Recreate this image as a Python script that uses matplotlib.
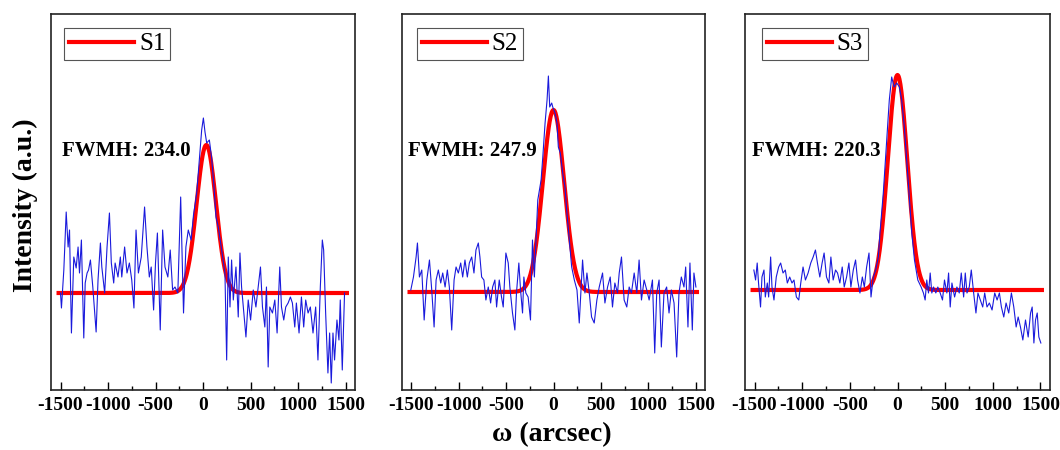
import numpy as np
import matplotlib
matplotlib.use("Agg")
import matplotlib.pyplot as plt

plt.rcParams['font.family'] = ['Liberation Serif', 'DejaVu Serif']
plt.rcParams['axes.unicode_minus'] = False

# omega (arcsec) / intensity (a.u.)
s1_x = [-1500, -1490, -1465, -1440, -1420, -1405, -1385, -1360, -1335, -1315, -1300, -1280, -1255, -1240,
        -1220, -1205, -1185, -1160, -1125, -1105, -1080, -1065, -1035, -1010, -985, -965, -940, -925,
        -895, -870, -855, -825, -800, -775, -750, -727, -705, -680, -650, -615, -590, -565, -545, -520,
        -500, -480, -450, -425, -400, -370, -345, -320, -295, -265, -235, -205, -180, -155, -125, -100,
        -66, -31, -14, 4, 21, 39, 67, 91, 116, 137, 161, 186, 207, 231, 249, 266, 284, 301, 319, 347,
        371, 389, 406, 424, 452, 476, 501, 529, 557, 581, 605, 626, 651, 668, 686, 703, 731, 756, 780,
        808, 826, 850, 871, 896, 920, 941, 966, 983, 1011, 1036, 1060, 1081, 1106, 1130, 1158, 1186,
        1210, 1235, 1256, 1270, 1291, 1315, 1333, 1350, 1368, 1385, 1410, 1431, 1445, 1466, 1490]
s1_y = [97, 82, 120, 178, 143, 160, 57, 133, 122, 143, 117, 150, 52, 107,
        117, 120, 130, 103, 58, 110, 147, 123, 97, 143, 177, 127, 107, 127,
        113, 133, 113, 143, 117, 127, 110, 82, 160, 117, 133, 183, 143, 113, 123, 80,
        127, 157, 60, 160, 123, 113, 140, 100, 103, 97, 193, 77, 143, 160, 150, 175,
        197, 240, 260, 272, 258, 247, 250, 232, 203, 173, 163, 147, 133, 117, 30, 133, 83, 130, 90, 123,
        73, 137, 103, 83, 53, 90, 70, 100, 83, 103, 123, 83, 63, 103, 23, 83, 77, 90, 57,
        123, 83, 70, 83, 87, 93, 87, 63, 87, 57, 93, 63, 90, 77, 83, 57, 83,
        30, 103, 150, 140, 77, 17, 57, 7, 57, 30, 70, 50, 90, 20, 97]

s2_x = [-1507, -1479, -1451, -1437, -1416, -1391, -1366, -1338, -1310, -1286, -1261, -1240, -1216, -1191,
        -1170, -1145, -1121, -1100, -1075, -1050, -1029, -1005, -980, -959, -935, -910, -889, -864,
        -840, -819, -794, -777, -759, -735, -714, -689, -664, -643, -619, -601, -573, -549, -531, -503,
        -478, -461, -433, -408, -391, -366, -348, -327, -313, -292, -268, -243, -222, -202, -166, -131,
        -113, -89, -68, -54, -40, -19, -8, 16, 37, 51, 72, 97, 121, 142, 167, 192, 220, 248, 272, 307,
        332, 353, 378, 402, 430, 458, 483, 518, 543, 571, 599, 623, 648, 676, 694, 718, 746, 774, 799,
        823, 852, 880, 904, 929, 957, 985, 1010, 1045, 1069, 1090, 1115, 1139, 1167, 1195, 1220, 1245,
        1273, 1301, 1325, 1350, 1378, 1396, 1420, 1441, 1466, 1483, 1504]
s2_y = [100, 113, 133, 147, 113, 120, 70, 110, 130, 100, 63, 110, 120, 107,
        117, 103, 120, 103, 60, 110, 123, 117, 127, 113, 130, 113, 127, 133,
        117, 140, 147, 133, 113, 110, 90, 103, 87, 103, 110, 83, 110, 93, 83, 137,
        127, 103, 77, 60, 97, 127, 100, 77, 113, 97, 93, 70, 150, 113, 190, 210,
        233, 267, 290, 314, 283, 287, 283, 277, 267, 243, 237, 217, 203, 177, 150, 123, 110, 100, 67, 130,
        97, 117, 97, 73, 67, 90, 103, 117, 87, 103, 113, 83, 107, 97, 117, 133, 90, 83, 103,
        97, 117, 97, 130, 90, 110, 100, 90, 110, 37, 97, 110, 43, 97, 103, 77, 100,
        87, 33, 97, 113, 103, 123, 63, 127, 60, 117, 103]

s3_x = [-1507, -1489, -1472, -1458, -1437, -1422, -1401, -1387, -1366, -1352, -1331, -1317, -1296, -1272,
        -1247, -1226, -1201, -1177, -1156, -1131, -1107, -1086, -1061, -1036, -1015, -991, -966, -938,
        -910, -885, -861, -840, -815, -791, -770, -745, -720, -699, -675, -650, -629, -605, -580, -559,
        -534, -510, -489, -464, -440, -419, -394, -369, -348, -324, -299, -278, -254, -229, -201, -184,
        -149, -113, -86, -61, -36, -8, 20, 44, 72, 97, 121, 150, 178, 213, 248, 272, 290, 307, 325, 343,
        360, 378, 402, 423, 448, 472, 493, 518, 536, 553, 571, 599, 623, 648, 669, 694, 711, 729, 753,
        774, 799, 823, 844, 869, 894, 915, 939, 964, 992, 1020, 1045, 1069, 1090, 1115, 1139, 1167,
        1195, 1220, 1245, 1266, 1290, 1315, 1343, 1371, 1396, 1413, 1431, 1448, 1466, 1483, 1504]
s3_y = [120, 110, 127, 107, 83, 113, 120, 93, 107, 93, 133, 103, 90, 113,
        123, 127, 117, 120, 107, 113, 107, 110, 93, 90, 107, 123, 110, 117,
        127, 133, 140, 127, 113, 127, 137, 113, 107, 133, 110, 120, 117, 107, 123, 103,
        113, 127, 103, 120, 130, 110, 97, 113, 103, 123, 137, 93, 113, 120, 133, 157,
        197, 250, 290, 313, 303, 307, 303, 290, 263, 230, 197, 157, 130, 110, 103, 97, 90, 110, 97, 117,
        97, 103, 97, 103, 97, 90, 110, 97, 117, 83, 107, 93, 103, 97, 117, 93, 117, 97, 103,
        120, 97, 77, 97, 90, 83, 97, 83, 87, 80, 97, 90, 97, 83, 73, 87, 77,
        97, 83, 63, 73, 63, 50, 70, 53, 77, 83, 47, 70, 77, 53, 47]

labels = ['S1', 'S2', 'S3']
fwhm_text = ['FWMH: 234.0', 'FWMH: 247.9', 'FWMH: 220.3']
# gaussian fit: centre, width, baseline, amplitude
fit_center = [35, 0, 0]
fit_width = [240, 265, 240]
fit_base = [97, 98, 100]
fit_amp = [148, 182, 215]

data = [(s1_x, s1_y), (s2_x, s2_y), (s3_x, s3_y)]
lefts = [51, 402, 745]
widths = [304, 303, 305]
leg_x = [0.043, 0.048, 0.055]
txt_x = [0.036, 0.02, 0.023]

fig = plt.figure(figsize=(10.6, 4.5), dpi=100)
for i in range(3):
    ax = fig.add_axes([lefts[i] / 1060, 60 / 450, widths[i] / 1060, 376 / 450])
    xf = np.linspace(-1520, 1515, 600)
    sig = fit_width[i] / 2.3548
    yf = fit_base[i] + fit_amp[i] * np.exp(-(xf - fit_center[i]) ** 2 / (2 * sig ** 2))
    ax.plot(xf, yf, color='#ff0000', lw=3, label=labels[i], zorder=2)
    ax.plot(data[i][0], data[i][1], color='#1a1adc', lw=0.8, zorder=3)
    ax.set_xlim(-1600, 1600)
    ax.set_ylim(0, 376)
    ax.set_yticks([])
    ax.set_xticks([-1500, -1000, -500, 0, 500, 1000, 1500])
    ax.set_xticks(np.arange(-1250, 1500, 500), minor=True)
    ax.tick_params(axis='x', which='major', direction='in', length=6, width=1, pad=5,
                   labelsize=14, top=False)
    ax.tick_params(axis='x', which='minor', direction='in', length=3, width=1, top=False)
    for t in ax.get_xticklabels():
        t.set_fontweight('bold')
    for s in ax.spines.values():
        s.set_linewidth(1.2)
        s.set_color('#222222')
    leg = ax.legend(loc='upper left', bbox_to_anchor=(leg_x[i], 0.963), fontsize=18,
                    handlelength=2.6, handletextpad=0.2, borderpad=0.2, borderaxespad=0,
                    fancybox=False, framealpha=1, edgecolor='#555555')
    leg.get_frame().set_linewidth(0.8)
    ax.text(txt_x[i], 0.636, fwhm_text[i], transform=ax.transAxes, fontsize=15,
            fontweight='bold', va='center', ha='left')

fig.text(0.024, 0.545, 'Intensity (a.u.)', rotation=90, fontsize=20, fontweight='bold',
         ha='center', va='center')
fig.text(0.521, 0.034, 'ω (arcsec)', fontsize=20, fontweight='bold', ha='center', va='center')

fig.savefig('out.png', dpi=100)
